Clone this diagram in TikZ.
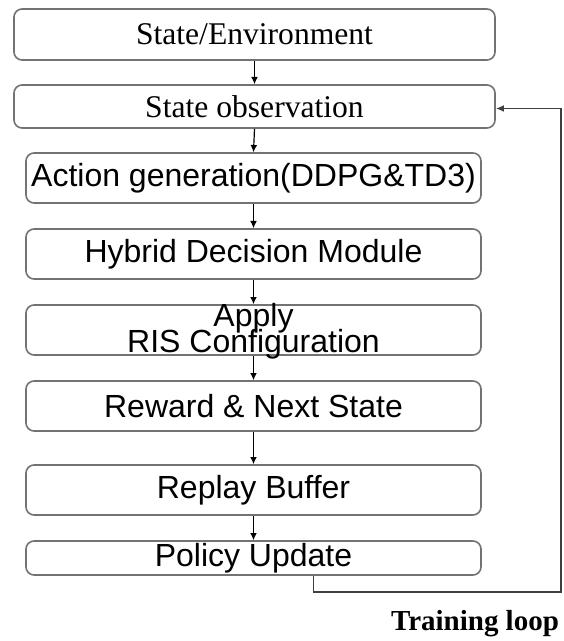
\documentclass[tikz,border=0pt]{standalone}
\usepackage{fontspec}
\setmainfont{Liberation Serif}
\setsansfont{Liberation Sans}
\usetikzlibrary{arrows.meta, calc}

\tikzset{
  stage/.style={draw=black!55, line width=0.8pt, rounded corners=4pt, fill=white,
    minimum width=227.5pt, minimum height=25pt, inner sep=0pt, align=center,
    font=\sffamily\fontsize{16}{12.5}\selectfont},
  wide/.style={minimum width=240.5pt, font=\rmfamily\fontsize{15.8}{14}\selectfont},
  flow/.style={-{Latex[length=3.6pt,width=3.4pt]}, line width=0.6pt},
  loopline/.style={-{Latex[length=4pt,width=3.4pt]}, line width=0.9pt, draw=black!75}
}

\begin{document}
\begin{tikzpicture}[x=0.5pt, y=-0.5pt]
\useasboundingbox (0,0) rectangle (563,641);
% stages of one training step
\node[stage,wide,minimum height=25.5pt] (env) at (254.5,34.5) {State/Environment};
\node[stage,wide,minimum height=21.5pt] (obs) at (254.5,106.5) {State observation};
\node[stage] (act) at (253.5,178) {Action generation(DDPG\&TD3)};
\node[stage] (hyb) at (253.5,254) {Hybrid Decision Module};
\node[stage] (ris) at (253.5,330) {};
\node[stage] (rew) at (253.5,406) {Reward \& Next State};
\node[stage] (buf) at (253.5,490) {Replay Buffer};
\node[stage,minimum height=17pt] (pol) at (253.5,558) {Policy Update};
\foreach \a/\b in {env/obs,obs/act,act/hyb,hyb/ris,ris/rew,rew/buf,buf/pol}
  \draw[flow] (\a.south) -- (\b.north);
% two lines, set tighter than the box so it keeps its height
\node[align=center, inner sep=0pt, font=\sffamily\fontsize{16}{12.5}\selectfont]
  (ristxt) at ([yshift=-0.8pt]ris) {Apply\\[-3pt]RIS Configuration};
% back to the observation step
\coordinate (turn) at (561,592);
\draw[loopline] ([xshift=30pt]pol.south) |- (turn) |- ([yshift=-1pt]obs.east);
\node[font=\rmfamily\bfseries\fontsize{14.5}{14}\selectfont] (lbl) at (475,624) {Training loop};
\end{tikzpicture}
\end{document}
